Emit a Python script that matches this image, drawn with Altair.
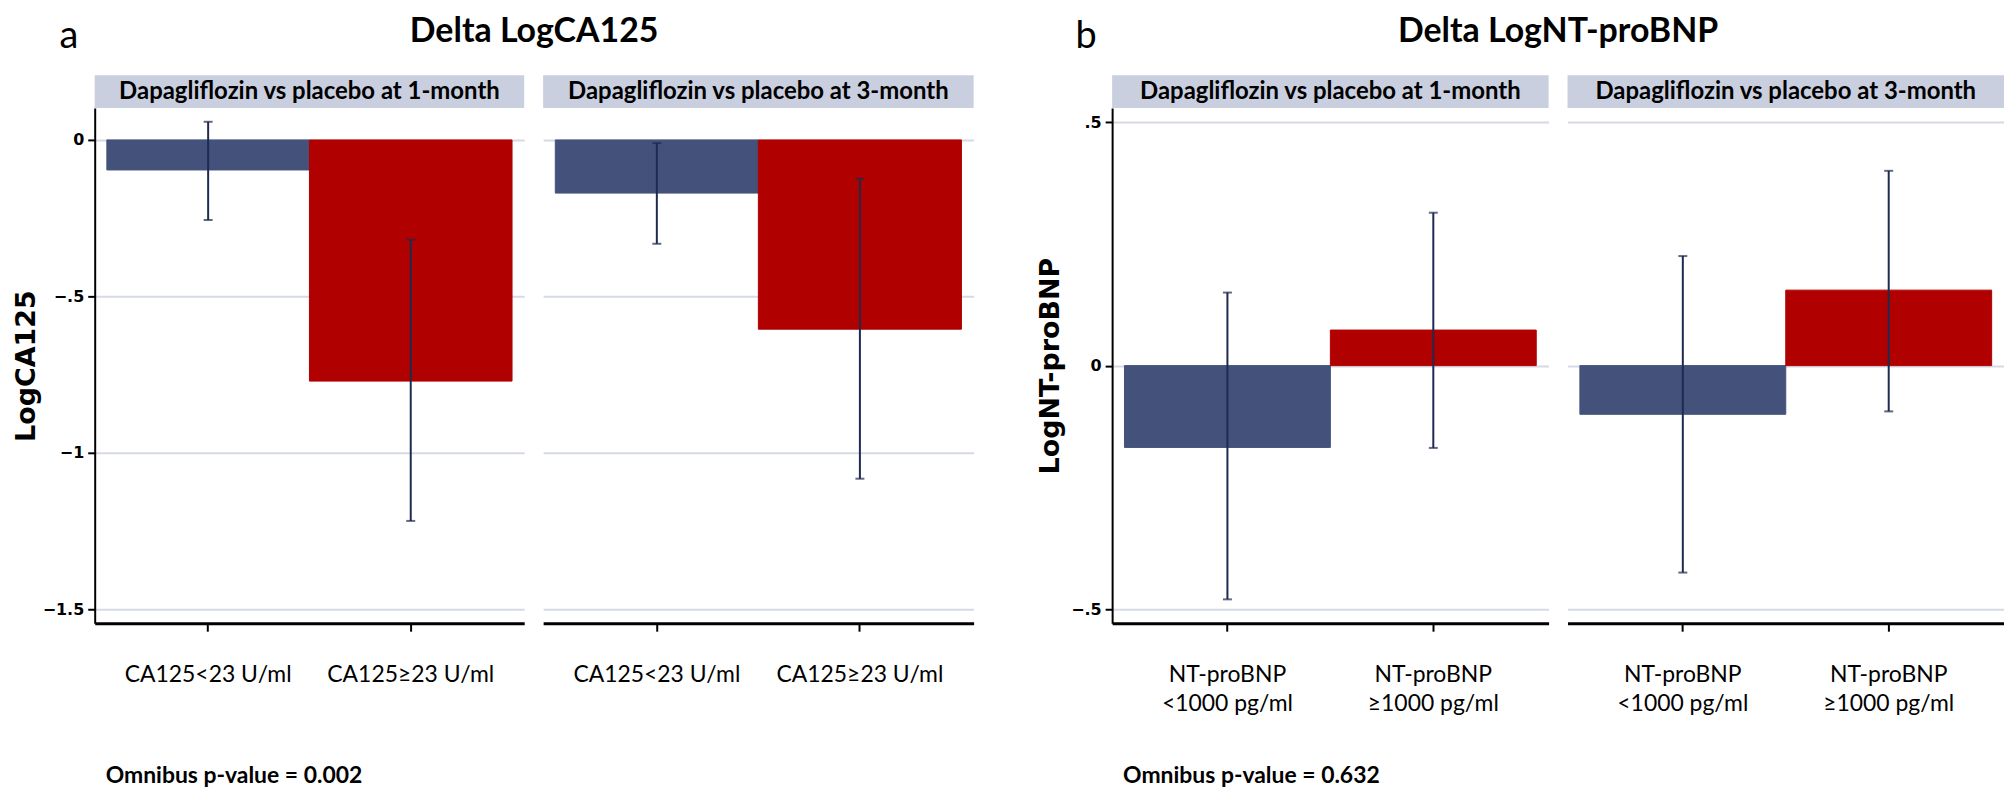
import altair as alt
import pandas as pd

# ---------------- data ----------------
ca_groups = ["CA125<23 U/ml", "CA125≥23 U/ml"]
ca_1m_mean = [-0.096, -0.771]
ca_1m_low = [-0.256, -1.218]
ca_1m_high = [0.058, -0.319]
ca_3m_mean = [-0.170, -0.605]
ca_3m_low = [-0.332, -1.083]
ca_3m_high = [-0.010, -0.124]

nt_groups = ["NT-proBNP\n<1000 pg/ml", "NT-proBNP\n≥1000 pg/ml"]
nt_1m_mean = [-0.168, 0.073]
nt_1m_low = [-0.480, -0.169]
nt_1m_high = [0.150, 0.314]
nt_3m_mean = [-0.100, 0.155]
nt_3m_low = [-0.425, -0.094]
nt_3m_high = [0.225, 0.400]

strip_a = ["Dapagliflozin vs placebo at  1-month", "Dapagliflozin vs placebo at 3-month"]
strip_b = ["Dapagliflozin vs placebo at 1-month", "Dapagliflozin vs placebo at 3-month"]
ca_ticks = [0, -0.5, -1, -1.5]
nt_ticks = [0.5, 0, -0.5]
ca_domain = [-1.545, 0.102]
nt_domain = [-0.529, 0.529]

# ---------------- style ----------------
BAR_COLORS = ["#44527B", "#B00000"]
ERR = "#1E2A50"
STRIP = "#C9CFDF"
GRID = "#D5DAE6"
H = 517
STRIP_H = 33
NUM_FMT = "datum.value == 0 ? '0' : replace(format(datum.value, '.2~f'), '0.', '.')"
NO_VIEW = {"stroke": "transparent", "strokeWidth": 0}


def panel(groups, mean, low, high, strip, domain, ticks, W, first,
          ytitle=None, letter=None, title=None, title_x=None, omnibus=None, tpad=6):
    df = pd.DataFrame({"group": groups, "mean": mean, "low": low, "high": high,
                       "shade": BAR_COLORS})
    base = alt.Chart(df)
    xaxis = alt.Axis(title=None, labelAngle=0, labelFont="Lato", labelFontSize=23,
                     labelColor="black", labelPadding=32, labelLimit=0,
                     labelExpr="split(datum.value, '\\n')", labelLineHeight=30,
                     labelBaseline="top",
                     tickColor="black", tickSize=8, tickWidth=2,
                     domainColor="black", domainWidth=3, grid=False)
    x = alt.X("group:N", sort=groups,
              scale=alt.Scale(paddingInner=0, paddingOuter=0.06), axis=xaxis)
    if first:
        yaxis = alt.Axis(values=ticks, labelExpr=NUM_FMT, labelFont="DejaVu Sans",
                         labelFontWeight="bold", labelFontSize=16, labelColor="black",
                         labelPadding=4,
                         tickColor="black", tickSize=7, tickWidth=2,
                         domainColor="black", domainWidth=2,
                         grid=True, gridColor=GRID, gridWidth=2,
                         title=ytitle, titleFont="DejaVu Sans", titleFontSize=27,
                         titleFontWeight="bold", titleColor="black", titlePadding=tpad)
    else:
        yaxis = alt.Axis(values=ticks, labels=False, ticks=False, domain=False,
                         grid=True, gridColor=GRID, gridWidth=2, title=None)
    yscale = alt.Scale(domain=domain, nice=False, zero=False)

    bars = base.mark_bar(strokeWidth=1).encode(
        x=x,
        y=alt.Y("mean:Q", scale=yscale, axis=yaxis),
        y2=alt.datum(0),
        color=alt.Color("shade:N", scale=None),
        stroke=alt.Color("shade:N", scale=None),
    )
    rule = base.mark_rule(color=ERR, strokeWidth=2).encode(
        x=x, y=alt.Y("low:Q", scale=yscale, axis=yaxis), y2="high:Q")
    cap_lo = base.mark_tick(color=ERR, thickness=2, size=9, orient="horizontal").encode(
        x=x, y=alt.Y("low:Q", scale=yscale, axis=yaxis))
    cap_hi = base.mark_tick(color=ERR, thickness=2, size=9, orient="horizontal").encode(
        x=x, y=alt.Y("high:Q", scale=yscale, axis=yaxis))

    sdf = pd.DataFrame({"label": [strip]})
    strip_rect = alt.Chart(sdf).mark_rect(color=STRIP).encode(
        x=alt.value(0), x2=alt.value(W), y=alt.value(-STRIP_H), y2=alt.value(0))
    strip_text = alt.Chart(sdf).mark_text(
        font="Lato", fontWeight="bold", fontSize=24, color="black", baseline="middle"
    ).encode(x=alt.value(W / 2), y=alt.value(-STRIP_H / 2), text="label:N")

    layers = [bars, rule, cap_lo, cap_hi, strip_rect, strip_text]
    if letter is not None:
        layers.append(alt.Chart(pd.DataFrame({"t": [letter]})).mark_text(
            font="Lato", fontSize=38, color="black", baseline="alphabetic"
        ).encode(x=alt.value(-26), y=alt.value(-60), text="t:N"))
    if title is not None:
        layers.append(alt.Chart(pd.DataFrame({"t": [title]})).mark_text(
            font="Lato", fontSize=34, fontWeight="bold", color="black", baseline="alphabetic"
        ).encode(x=alt.value(title_x), y=alt.value(-66), text="t:N"))
    if omnibus is not None:
        layers.append(alt.Chart(pd.DataFrame({"t": [omnibus]})).mark_text(
            font="Lato", fontSize=23, fontWeight="bold", color="black",
            baseline="alphabetic", align="left"
        ).encode(x=alt.value(11), y=alt.value(677), text="t:N"))
    return alt.layer(*layers).properties(width=W, height=H, view=NO_VIEW)


SP = 19
WA, WA2 = 431, 432
WB, WB2 = 438, 438
GAP = 139

a1 = panel(ca_groups, ca_1m_mean, ca_1m_low, ca_1m_high, strip_a[0], ca_domain, ca_ticks,
           WA, True, ytitle="LogCA125", letter="a", title="Delta LogCA125",
           title_x=(WA + SP + WA2) / 2, omnibus="Omnibus p-value = 0.002", tpad=2)
a2 = panel(ca_groups, ca_3m_mean, ca_3m_low, ca_3m_high, strip_a[1], ca_domain, ca_ticks,
           WA2, False)
b1 = panel(nt_groups, nt_1m_mean, nt_1m_low, nt_1m_high, strip_b[0], nt_domain, nt_ticks,
           WB, True, ytitle="LogNT-proBNP", letter="b", title="Delta LogNT-proBNP",
           title_x=(WB + SP + WB2) / 2, omnibus="Omnibus p-value = 0.632", tpad=6)
b2 = panel(nt_groups, nt_3m_mean, nt_3m_low, nt_3m_high, strip_b[1], nt_domain, nt_ticks,
           WB2, False)

spacer = alt.Chart(pd.DataFrame({"t": [""]})).mark_text(opacity=0).encode(
    x=alt.value(0), y=alt.value(0), text="t:N"
).properties(width=GAP - 2 * SP, height=H, view=NO_VIEW)

chart = alt.hconcat(a1, a2, spacer, b1, b2, spacing=SP, bounds="flush").properties(
    padding={"left": 4, "top": 6, "right": 0, "bottom": 0}
).configure_view(stroke="transparent", strokeWidth=0).configure(background="white")

chart.save("out.html", embed_options={"renderer": "svg", "actions": False})
